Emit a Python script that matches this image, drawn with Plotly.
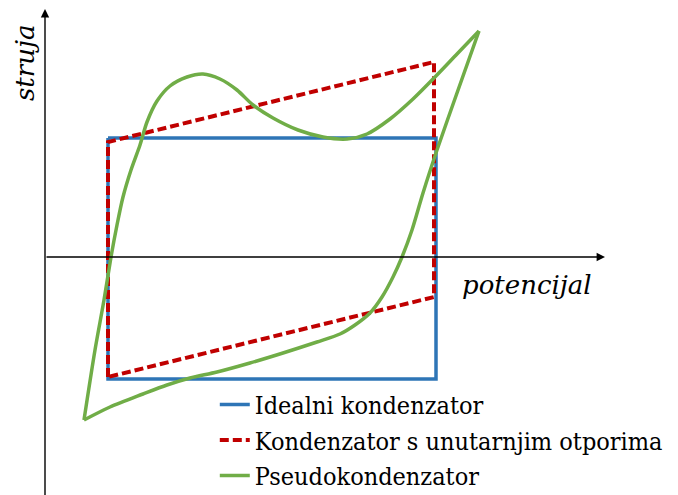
import plotly.graph_objects as go

# Ideal capacitor (rectangle)
ideal_x = [0.63, 3.91, 3.91, 0.63, 0.63]
ideal_y = [1.19, 1.19, -1.22, -1.22, 1.19]

# Capacitor with internal resistance (parallelogram)
res_x = [0.63, 0.63, 3.89, 3.89, 0.63]
res_y = [-1.20, 1.15, 1.95, -0.40, -1.20]

# Pseudocapacitor: forward (anodic) branch
pseudo_fwd_x = [0.39, 0.50, 0.59, 0.66, 0.72, 0.78, 0.86, 0.95, 1.02, 1.12, 1.25, 1.42, 1.58,
                1.75, 1.92, 2.08, 2.28, 2.53, 2.78, 3.02, 3.22, 3.45, 3.68, 3.90, 4.12, 4.34]
pseudo_fwd_y = [-1.63, -0.93, -0.43, 0.00, 0.32, 0.60, 0.87, 1.12, 1.35, 1.56, 1.71, 1.80, 1.83,
                1.78, 1.67, 1.52, 1.39, 1.27, 1.20, 1.18, 1.23, 1.38, 1.58, 1.80, 2.03, 2.26]
# Pseudocapacitor: return (cathodic) branch
pseudo_rev_x = [4.34, 4.12, 3.92, 3.78, 3.67, 3.57, 3.48, 3.37, 3.25, 3.10, 2.95, 2.72, 2.38,
                2.05, 1.72, 1.45, 1.22, 0.98, 0.65, 0.39]
pseudo_rev_y = [2.26, 1.64, 1.07, 0.64, 0.27, 0.00, -0.20, -0.40, -0.56, -0.68, -0.77, -0.85, -0.96,
                -1.06, -1.15, -1.21, -1.28, -1.37, -1.50, -1.63]

names = ["Idealni kondenzator", "Kondenzator s unutarnjim otporima", "Pseudokondenzator"]
x_label = "potencijal"
y_label = "struja"

BLUE = "#2E75B6"
RED = "#C00000"
GREEN = "#70AD47"
SERIF = "DejaVu Serif"

fig = go.Figure()
fig.add_trace(go.Scatter(x=ideal_x, y=ideal_y, mode="lines", name=names[0],
                         line=dict(color=BLUE, width=3.5)))
fig.add_trace(go.Scatter(x=res_x, y=res_y, mode="lines", name=names[1],
                         line=dict(color=RED, width=4, dash="9px,4px")))
fig.add_trace(go.Scatter(x=pseudo_fwd_x, y=pseudo_fwd_y, mode="lines", name=names[2],
                         legendgroup="pseudo",
                         line=dict(color=GREEN, width=3.5, shape="spline", smoothing=0.8)))
fig.add_trace(go.Scatter(x=pseudo_rev_x, y=pseudo_rev_y, mode="lines", name=names[2],
                         legendgroup="pseudo", showlegend=False,
                         line=dict(color=GREEN, width=3.5, shape="spline", smoothing=0.8)))

# Axis arrows
fig.add_annotation(x=0, y=2.48, ax=0, ay=-2.46, xref="x", yref="y", axref="x", ayref="y",
                   showarrow=True, arrowhead=2, arrowsize=1.2, arrowwidth=1.4,
                   arrowcolor="black", text="")
fig.add_annotation(x=5.60, y=0, ax=0.0, ay=0, xref="x", yref="y", axref="x", ayref="y",
                   showarrow=True, arrowhead=2, arrowsize=1.2, arrowwidth=1.4,
                   arrowcolor="black", text="")

fig.add_annotation(x=-0.20, y=1.94, xref="x", yref="y", text=f"<i>{y_label}</i>",
                   showarrow=False, textangle=-90,
                   font=dict(family=SERIF, size=26, color="black"))
fig.add_annotation(x=4.82, y=-0.28, xref="x", yref="y", text=f"<i>{x_label}</i>",
                   showarrow=False, font=dict(family=SERIF, size=26, color="black"))

fig.update_xaxes(range=[-0.37, 6.41], visible=False)
fig.update_yaxes(range=[-2.46, 2.49], visible=False)

fig.update_layout(
    width=678, height=495, autosize=False,
    margin=dict(l=0, r=0, t=0, b=0),
    paper_bgcolor="white", plot_bgcolor="white",
    showlegend=True,
    legend=dict(x=0.305, y=0.127, xanchor="left", yanchor="middle",
                bgcolor="rgba(0,0,0,0)", itemwidth=30,
                font=dict(family="DejaVu Serif Condensed, DejaVu Serif", size=25, color="black"),
                tracegroupgap=0),
)

fig.write_html("out.html")
